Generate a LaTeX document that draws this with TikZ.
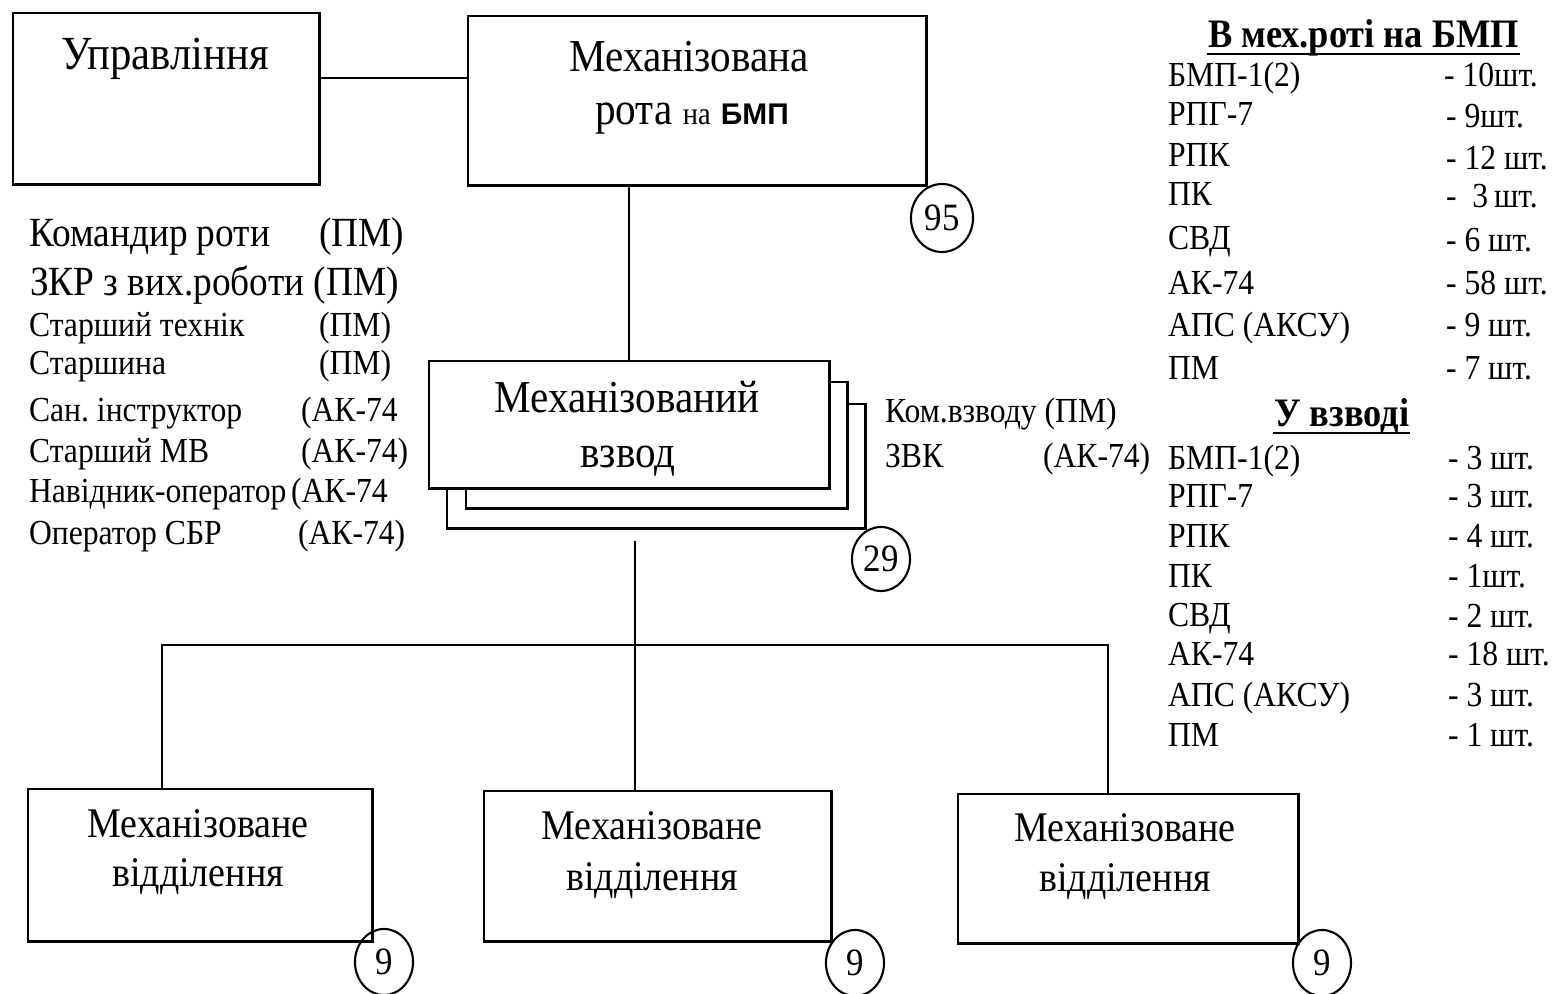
\documentclass[tikz,border=0pt]{standalone}
\usepackage{fontspec}
\setmainfont{Liberation Serif}[FakeStretch=0.9]
\setsansfont{Liberation Sans}
\usetikzlibrary{shapes.geometric}
\frenchspacing

\tikzset{
  box/.style={draw, line width=0.7pt, fill=white, anchor=north west, inner sep=0pt},
  num/.style={draw, ellipse, line width=0.6pt, inner sep=0pt, minimum width=0.58cm, minimum height=0.66cm, font=\fontsize{11}{13}\selectfont},
  hd/.style={anchor=base, inner sep=0pt, font=\fontsize{13}{15}\selectfont},
  sub/.style={anchor=base, inner sep=0pt, font=\fontsize{12}{14}\selectfont},
  big/.style={anchor=base west, inner sep=0pt, font=\fontsize{11.8}{14}\selectfont},
  small/.style={anchor=base west, inner sep=0pt, font=\fontsize{10}{12}\selectfont},
  lst/.style={anchor=base west, inner sep=0pt, font=\fontsize{10}{12}\selectfont},
  ttl/.style={anchor=base west, inner sep=0pt, font=\bfseries\fontsize{11.5}{13}\selectfont},
}

\begin{document}
\begin{tikzpicture}[x=0.01cm, y=-0.01cm, line width=0.6pt]
\useasboundingbox (0,0) rectangle (1556,994);

% boxes
\node (upr) at (12,12) [box, minimum width=3.06cm, minimum height=1.71cm] {};
\node (rota) at (467,15) [box, minimum width=4.58cm, minimum height=1.69cm] {};
\node (vzv3) at (446,403) [box, minimum width=4.18cm, minimum height=1.24cm] {};
\node (vzv2) at (465,381) [box, minimum width=3.81cm, minimum height=1.26cm] {};
\node (vzv) at (428,360) [box, minimum width=4.00cm, minimum height=1.27cm] {};
\node (vid1) at (27,788) [box, minimum width=3.44cm, minimum height=1.52cm] {};
\node (vid2) at (483,790) [box, minimum width=3.47cm, minimum height=1.50cm] {};
\node (vid3) at (957,793) [box, minimum width=3.40cm, minimum height=1.49cm] {};

% box texts
\node (tupr) at (165,70) [hd, font=\fontsize{13.5}{15}\selectfont] {Управління};
\node (trota1) at (689,72) [hd] {Механізована};
\node (trota2) at (692,125) [hd] {рота {\fontsize{9}{10}\selectfont на} {\sffamily\bfseries\fontsize{8.5}{10}\selectfont БМП}};
\node (tvzv1) at (627,413) [hd] {Механізований};
\node (tvzv2) at (628,468) [hd] {взвод};
\node (tvid1a) at (198,838) [sub] {Механізоване};
\node (tvid1b) at (198,887) [sub] {відділення};
\node (tvid2a) at (652,840) [sub] {Механізоване};
\node (tvid2b) at (652,890) [sub] {відділення};
\node (tvid3a) at (1125,842) [sub] {Механізоване};
\node (tvid3b) at (1125,892) [sub] {відділення};

% numbers
\node (n95) at (942,218) [num, minimum width=0.62cm, minimum height=0.68cm] {95};
\node (n29) at (881,559) [num, minimum height=0.64cm] {29};
\node (n9a) at (384,962) [num] {9};
\node (n9b) at (855,963) [num] {9};
\node (n9c) at (1322,963) [num] {9};

% connectors
\coordinate (fork) at (635,645);
\coordinate (forkl) at (162,645);
\coordinate (forkr) at (1108,645);
\draw ([yshift=0.205cm]upr.east) -- ([yshift=0.205cm]upr.east -| rota.west);
\draw (vzv.north |- rota.south) -- (vzv.north);
\draw ([yshift=-0.11cm]vzv3.south -| fork) -- (fork |- vid2.north);
\draw (forkl |- vid1.north) -- (forkl) -- (forkr) -- (forkr |- vid3.north);

% company staff
\node (k1) at (28,247) [big] {Командир роти};
\node (k1w) at (318,247) [big] {(ПМ)};
\node (k2) at (29,296) [big] {ЗКР з вих.роботи (ПМ)};
\node (k3) at (28,337) [small] {Старший технік};
\node (k3w) at (318,337) [small] {(ПМ)};
\node (k4) at (28,375) [small] {Старшина};
\node (k4w) at (318,375) [small] {(ПМ)};
\node (k5) at (28,422) [small] {Сан. інструктор};
\node (k5w) at (300,422) [small] {(АК-74};
\node (k6) at (28,463) [small] {Старший МВ};
\node (k6w) at (300,463) [small] {(АК-74)};
\node (k7) at (28,503) [small] {Навідник-оператор};
\node (k7w) at (290,503) [small] {(АК-74};
\node (k8) at (28,545) [small] {Оператор СБР};
\node (k8w) at (297,545) [small] {(АК-74)};

% platoon staff
\node (p1) at (884,423) [lst] {Ком.взводу (ПМ)};
\node (p2) at (884,468) [lst] {ЗВК};
\node (p2w) at (1042,468) [lst] {(АК-74)};

% weapons of the company
\node (r0) at (1207,48) [ttl] {В мех.роті на БМП};
\draw ([yshift=-0.06cm]r0.base west) -- ([yshift=-0.06cm]r0.base east);
\node (r1) at (1167,87) [lst] {БМП-1(2)};
\node (r1n) at (1443,87) [lst] {- 10шт.};
\node (r2) at (1167,126) [lst] {РПГ-7};
\node (r2n) at (1445,128) [lst] {- 9шт.};
\node (r3) at (1167,167) [lst] {РПК};
\node (r3n) at (1445,170) [lst] {- 12 шт.};
\node (r4) at (1167,206) [lst] {ПК};
\node (r4n) at (1445,208) [lst] {-~~3\,шт.};
\node (r5) at (1167,250) [lst] {СВД};
\node (r5n) at (1445,252) [lst] {- 6 шт.};
\node (r6) at (1167,295) [lst] {АК-74};
\node (r6n) at (1445,295) [lst] {- 58 шт.};
\node (r7) at (1167,337) [lst] {АПС (АКСУ)};
\node (r7n) at (1445,337) [lst] {- 9 шт.};
\node (r8) at (1167,380) [lst] {ПМ};
\node (r8n) at (1445,380) [lst] {- 7 шт.};

% weapons of the platoon
\node (v0) at (1273,427) [ttl] {У взводі};
\draw ([yshift=-0.06cm]v0.base west) -- ([yshift=-0.06cm]v0.base east);
\node (v1) at (1167,470) [lst] {БМП-1(2)};
\node (v1n) at (1447,470) [lst] {- 3 шт.};
\node (v2) at (1167,508) [lst] {РПГ-7};
\node (v2n) at (1447,508) [lst] {- 3 шт.};
\node (v3) at (1167,548) [lst] {РПК};
\node (v3n) at (1447,548) [lst] {- 4 шт.};
\node (v4) at (1167,588) [lst] {ПК};
\node (v4n) at (1447,588) [lst] {- 1шт.};
\node (v5) at (1167,627) [lst] {СВД};
\node (v5n) at (1447,628) [lst] {- 2 шт.};
\node (v6) at (1167,666) [lst] {АК-74};
\node (v6n) at (1447,666) [lst] {- 18 шт.};
\node (v7) at (1167,707) [lst] {АПС (АКСУ)};
\node (v7n) at (1447,707) [lst] {- 3 шт.};
\node (v8) at (1167,747) [lst] {ПМ};
\node (v8n) at (1447,747) [lst] {- 1 шт.};
\end{tikzpicture}
\end{document}
